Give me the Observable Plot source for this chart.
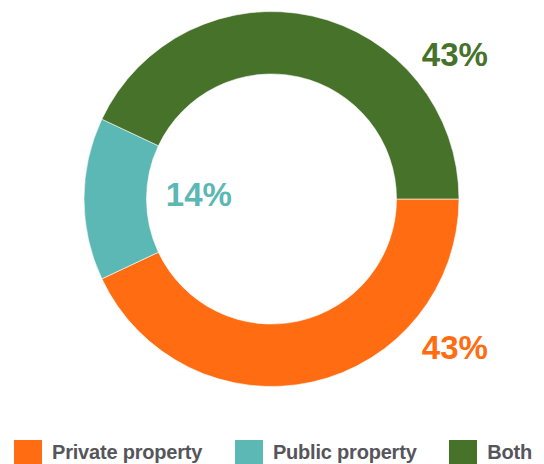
<!DOCTYPE html>
<html>
<head>
<meta charset="utf-8">
<script src="https://cdn.jsdelivr.net/npm/d3@7"></script>
<script src="https://cdn.jsdelivr.net/npm/@observablehq/plot@0.6"></script>
<style>
  html, body { margin: 0; padding: 0; background: #fff; }
  body { width: 544px; height: 464px; overflow: hidden; font-family: "Liberation Sans", Arial, sans-serif; }
  .legend { display: flex; justify-content: space-between; align-items: center; padding: 0 12px 0 14px; margin-top: 8px; height: 24px; }
  .legend .item { display: flex; align-items: center; }
  .legend .sw { width: 28px; height: 24px; margin-right: 10px; }
  .legend .lab { font-size: 20px; font-weight: 600; color: #55565b; letter-spacing: -0.2px; }
</style>
</head>
<body>
<div id="chart"></div>
<script>
// ---- data ----
const categories = ["Private property", "Public property", "Both"];
const shares = [43, 14, 43];
const labels = ["43%", "14%", "43%"];
const colors = ["#ff6c12", "#5bb8b4", "#46722a"];

// ---- layout ----
const W = 544, H = 432;
const cx = 271.5, cy = 199, R = 187.5, innerFrac = 125 / 187.5;
// label anchor positions, in radius units relative to the centre (y positive = down)
const labelPos = [[0.975, 0.795], [-0.39, -0.02], [0.975, -0.77]];

const pie = d3.pie().sort(null).value(d => d.share)
  .startAngle(Math.PI / 2).endAngle(Math.PI / 2 + 2 * Math.PI);
const rows = categories.map((c, i) => ({category: c, share: shares[i], label: labels[i], color: colors[i],
  lx: labelPos[i][0], ly: labelPos[i][1]}));
const arcs = pie(rows);

function donut(index, scales, values, dimensions) {
  const x0 = scales.x(0), y0 = scales.y(0);
  const r = scales.x(1) - scales.x(0);
  const arc = d3.arc().innerRadius(r * innerFrac).outerRadius(r);
  const g = d3.create("svg:g").attr("transform", `translate(${x0},${y0})`);
  g.selectAll("path").data(arcs).join("path")
    .attr("d", arc)
    .attr("fill", d => d.data.color)
    .attr("stroke", "#fff")
    .attr("stroke-width", 0.6);
  return g.node();
}

const plot = Plot.plot({
  width: W, height: H,
  margin: 0,
  x: {domain: [-cx / R, (W - cx) / R], range: [0, W], axis: null},
  y: {domain: [-(H - cy) / R, cy / R], range: [H, 0], axis: null},
  style: {background: "#fff", fontFamily: "'Liberation Sans', Arial, sans-serif"},
  marks: [
    donut,
    Plot.text(rows, {
      x: "lx", y: d => -d.ly, text: "label", fill: "color",
      fontSize: 33, fontWeight: "bold", textAnchor: "middle", lineAnchor: "middle",
      letterSpacing: 0.5
    })
  ]
});
document.getElementById("chart").appendChild(plot);

const legend = d3.select("body").append("div").attr("class", "legend");
const items = legend.selectAll(".item").data(rows).join("div").attr("class", "item");
items.append("div").attr("class", "sw").style("background", d => d.color);
items.append("span").attr("class", "lab").text(d => d.category);
</script>
</body>
</html>
